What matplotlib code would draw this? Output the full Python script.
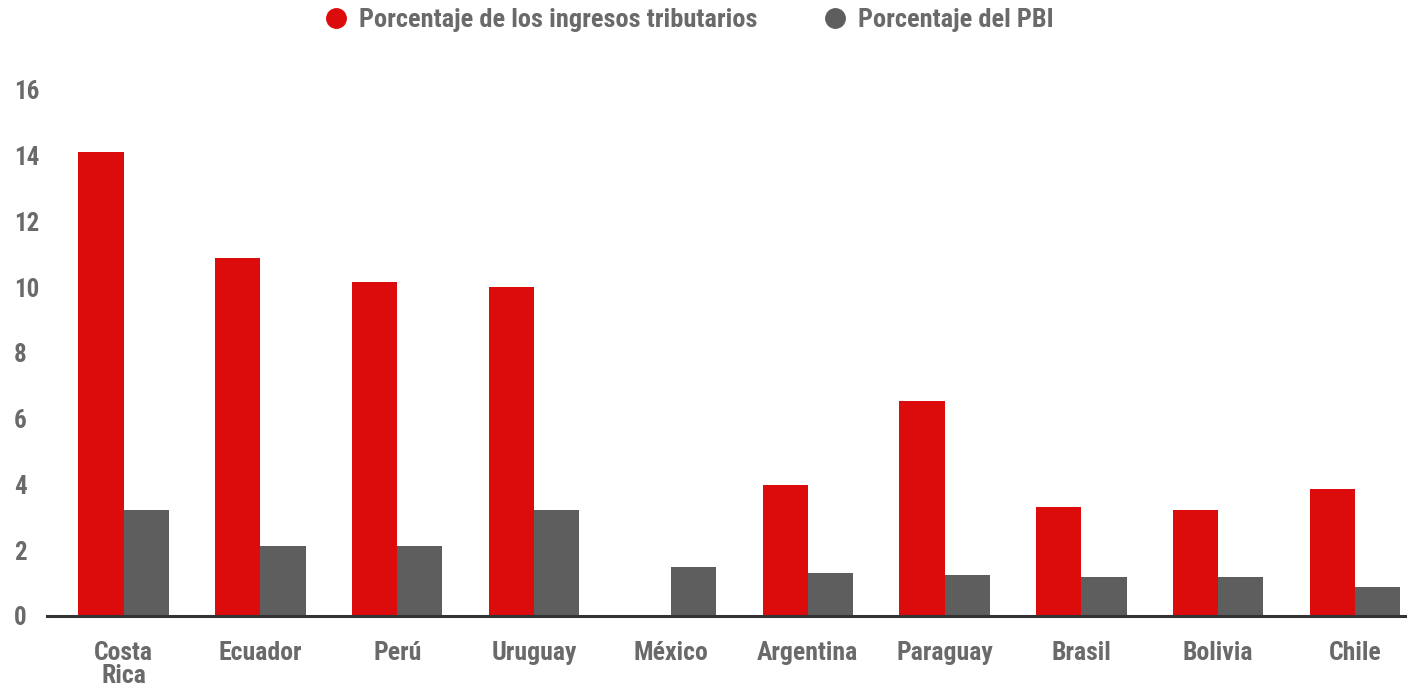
import matplotlib
matplotlib.use("Agg")
import matplotlib.pyplot as plt
from matplotlib import font_manager
import numpy as np

paises = ["Costa\nRica", "Ecuador", "Perú", "Uruguay", "México",
          "Argentina", "Paraguay", "Brasil", "Bolivia", "Chile"]
pct_ingresos = [14.1, 10.9, 10.15, 10.0, 0, 3.98, 6.55, 3.3, 3.22, 3.85]
pct_pbi = [3.22, 2.13, 2.13, 3.22, 1.5, 1.3, 1.25, 1.19, 1.19, 0.88]
yticks = [0, 2, 4, 6, 8, 10, 12, 14, 16]

ROJO = "#dc0c0c"
GRIS = "#5e5e5e"
TEXTO = "#6a6a6a"

# prefer a condensed face if one is there
names = {f.name for f in font_manager.fontManager.ttflist}
fam = "DejaVu Sans"
for cand in ["Roboto Condensed", "Liberation Sans Narrow", "Open Sans Condensed", "Roboto"]:
    if cand in names:
        fam = cand
        break
plt.rcParams["font.family"] = [fam, "DejaVu Sans"]
plt.rcParams["font.weight"] = "bold"

fig = plt.figure(figsize=(14.07, 6.88), dpi=100)
ax = fig.add_axes([0.0334, 0.1047, 0.9666, 0.7645])

x = np.arange(len(paises))
w = 0.33
ax.bar(x - w / 2, pct_ingresos, width=w, color=ROJO)
ax.bar(x + w / 2, pct_pbi, width=w, color=GRIS)

ax.set_xlim(-0.56, 9.38)
ax.set_ylim(0, 16)
ax.set_yticks(yticks)
ax.set_xticks(x)
ax.set_xticklabels(paises, fontsize=18.5, color=TEXTO, linespacing=0.95)
ax.tick_params(axis="x", length=0, pad=18)
ax.tick_params(axis="y", length=0, pad=24, labelsize=18, labelcolor=TEXTO)
for t in ax.get_yticklabels():
    t.set_horizontalalignment("left")

for s in ["top", "right", "left"]:
    ax.spines[s].set_visible(False)
ax.spines["bottom"].set_color("#333333")
ax.spines["bottom"].set_linewidth(2.2)

ax.legend(loc="center", bbox_to_anchor=(0.473, 1.133), ncol=2, frameon=False,
          fontsize=19, labelcolor=TEXTO, handlelength=0.7, handleheight=0.7,
          columnspacing=2.6, handletextpad=0.5,
          handles=[plt.Line2D([], [], marker="o", ls="", color=ROJO, markersize=14),
                   plt.Line2D([], [], marker="o", ls="", color=GRIS, markersize=14)],
          labels=["Porcentaje de los ingresos tributarios", "Porcentaje del PBI"])

fig.savefig("out.png", dpi=100)
